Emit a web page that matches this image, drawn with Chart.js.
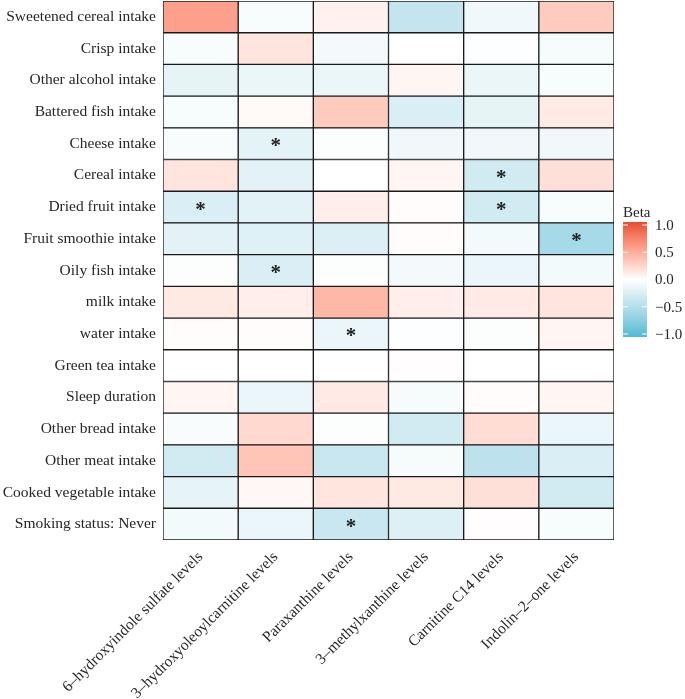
<!DOCTYPE html>
<html>
<head>
    <title>Beta heatmap</title>
    <meta charset="UTF-8">
    <script src="https://cdn.jsdelivr.net/npm/chart.js@4.4.1/dist/chart.umd.min.js"></script>
    <style>
        body { margin: 0; background: #fff; }
    </style>
</head>
<body>
<div style="width:685px;height:699px;">
    <canvas id="heatmap" width="685" height="699"></canvas>
</div>

<script>
    // rows (exposures) and columns (metabolites)
    var exposures = ["Sweetened cereal intake", "Crisp intake", "Other alcohol intake", "Battered fish intake",
        "Cheese intake", "Cereal intake", "Dried fruit intake", "Fruit smoothie intake", "Oily fish intake",
        "milk intake", "water intake", "Green tea intake", "Sleep duration", "Other bread intake",
        "Other meat intake", "Cooked vegetable intake", "Smoking status: Never"];
    var metabolites = ["6–hydroxyindole sulfate levels", "3–hydroxyoleoylcarnitine levels", "Paraxanthine levels",
        "3–methylxanthine levels", "Carnitine C14 levels", "Indolin–2–one levels"];

    // beta per metabolite, in the order of exposures
    var hydroxyindole = [0.55, -0.05, -0.16, -0.05, -0.04, 0.15, -0.24, -0.19, -0.02, 0.13, 0.02, 0.0, 0.05, -0.04, -0.3, -0.16, -0.08];
    var hydroxyoleoyl = [-0.05, 0.15, -0.13, 0.03, -0.18, -0.19, -0.19, -0.21, -0.24, 0.1, 0.02, 0.0, -0.13, 0.22, 0.33, 0.04, -0.13];
    var paraxanthine  = [0.08, -0.07, -0.13, 0.3, -0.02, 0.0, 0.1, -0.23, -0.02, 0.42, -0.13, 0.0, 0.12, -0.02, -0.35, 0.15, -0.35];
    var methylxanthine = [-0.38, 0.0, 0.05, -0.24, -0.1, 0.06, 0.02, 0.02, -0.07, 0.1, -0.01, 0.01, -0.06, -0.3, -0.06, 0.13, -0.22];
    var carnitineC14  = [-0.1, -0.01, -0.13, -0.16, -0.1, -0.3, -0.3, -0.08, -0.13, 0.12, -0.02, 0.0, 0.02, 0.2, -0.42, 0.18, 0.01];
    var indolinone    = [0.3, -0.06, -0.05, 0.12, -0.1, 0.18, -0.05, -0.55, -0.08, 0.15, 0.06, 0.0, 0.06, -0.13, -0.24, -0.3, -0.05];

    // significant cells: [exposure index, metabolite index]
    var significant = [[4, 1], [5, 4], [6, 0], [6, 4], [7, 5], [8, 1], [10, 2], [16, 2]];

    var legendTicks = [1.0, 0.5, 0.0, -0.5, -1.0];

    var lowColor = [77, 187, 213];
    var midColor = [255, 255, 255];
    var highColor = [230, 75, 53];

    // colour interpolation in Lab space, like ggplot's gradient2
    function toLin(c) { c /= 255; return c <= 0.04045 ? c / 12.92 : Math.pow((c + 0.055) / 1.055, 2.4); }
    function fromLin(c) { var v = c <= 0.0031308 ? 12.92 * c : 1.055 * Math.pow(c, 1 / 2.4) - 0.055; return Math.round(Math.max(0, Math.min(1, v)) * 255); }
    function rgb2lab(rgb) {
        var r = toLin(rgb[0]), g = toLin(rgb[1]), b = toLin(rgb[2]);
        var X = (0.4124 * r + 0.3576 * g + 0.1805 * b) / 0.95047;
        var Y = (0.2126 * r + 0.7152 * g + 0.0722 * b);
        var Z = (0.0193 * r + 0.1192 * g + 0.9505 * b) / 1.08883;
        var f = function (t) { return t > 0.008856 ? Math.cbrt(t) : 7.787 * t + 16 / 116; };
        var fx = f(X), fy = f(Y), fz = f(Z);
        return [116 * fy - 16, 500 * (fx - fy), 200 * (fy - fz)];
    }
    function lab2rgb(lab) {
        var fy = (lab[0] + 16) / 116, fx = fy + lab[1] / 500, fz = fy - lab[2] / 200;
        var inv = function (t) { return t * t * t > 0.008856 ? t * t * t : (t - 16 / 116) / 7.787; };
        var X = inv(fx) * 0.95047, Y = inv(fy), Z = inv(fz) * 1.08883;
        var r = 3.2406 * X - 1.5372 * Y - 0.4986 * Z;
        var g = -0.9689 * X + 1.8758 * Y + 0.0415 * Z;
        var b = 0.0557 * X - 0.2040 * Y + 1.0570 * Z;
        return [fromLin(r), fromLin(g), fromLin(b)];
    }
    var lowLab = rgb2lab(lowColor), midLab = rgb2lab(midColor), highLab = rgb2lab(highColor);

    function betaColor(v) {
        var t = Math.max(-1, Math.min(1, v));
        var end = t < 0 ? lowLab : highLab;
        var a = Math.abs(t);
        var lab = midLab.map(function (m, i) { return m + (end[i] - m) * a; });
        return "rgb(" + lab2rgb(lab).join(",") + ")";
    }

    var columns = [hydroxyindole, hydroxyoleoyl, paraxanthine, methylxanthine, carnitineC14, indolinone];
    var serif = "'Liberation Serif', 'DejaVu Serif', serif";
    var textColor = "#262626";

    var datasets = columns.map(function (vals, i) {
        return {
            label: metabolites[i],
            data: exposures.map(function () { return 1; }),
            backgroundColor: vals.map(betaColor),
            borderColor: "#1a1a1a",
            borderWidth: 1,
            borderSkipped: false,
            categoryPercentage: 1,
            barPercentage: 1
        };
    });

    var starsPlugin = {
        id: "stars",
        afterDatasetsDraw: function (chart) {
            var ctx = chart.ctx, xs = chart.scales.x, ys = chart.scales.y;
            ctx.save();
            ctx.fillStyle = "#222";
            ctx.font = "bold 21px " + serif;
            ctx.textAlign = "center";
            ctx.textBaseline = "middle";
            significant.forEach(function (s) {
                ctx.fillText("*", xs.getPixelForValue(s[1] + 0.5), ys.getPixelForValue(s[0]) + 3);
            });
            ctx.restore();
        }
    };

    var colorbarPlugin = {
        id: "colorbar",
        afterDraw: function (chart) {
            var ctx = chart.ctx;
            var x0 = 623, w = 24, top = 222, bottom = 337;
            ctx.save();
            var g = ctx.createLinearGradient(0, top, 0, bottom);
            for (var k = 0; k <= 20; k++) {
                g.addColorStop(k / 20, betaColor(1 - k / 10));
            }
            ctx.fillStyle = g;
            ctx.fillRect(x0, top, w, bottom - top);
            ctx.fillStyle = textColor;
            ctx.font = "15px " + serif;
            ctx.textBaseline = "alphabetic";
            ctx.textAlign = "left";
            ctx.fillText("Beta", 623, 217);
            ctx.textBaseline = "middle";
            ctx.strokeStyle = "#fff";
            ctx.lineWidth = 1;
            legendTicks.forEach(function (v) {
                var y = top + 3 + (1 - v) / 2 * (bottom - top - 6);
                ctx.beginPath();
                ctx.moveTo(x0, y); ctx.lineTo(x0 + 5, y);
                ctx.moveTo(x0 + w - 5, y); ctx.lineTo(x0 + w, y);
                ctx.stroke();
                var txt = (v < 0 ? "\u2212" : "") + Math.abs(v).toFixed(1);
                ctx.fillText(txt, 655, y + 1);
            });
            ctx.restore();
        }
    };

    new Chart(document.getElementById("heatmap"), {
        type: "bar",
        data: { labels: exposures, datasets: datasets },
        options: {
            indexAxis: "y",
            responsive: false,
            animation: false,
            layout: { padding: { top: 1, right: 71, left: 0, bottom: 0 } },
            plugins: { legend: { display: false }, tooltip: { enabled: false } },
            scales: {
                x: {
                    type: "linear",
                    stacked: true,
                    min: 0,
                    max: 6,
                    grid: { display: false },
                    border: { display: false },
                    afterBuildTicks: function (axis) {
                        axis.ticks = metabolites.map(function (m, i) { return { value: i + 0.5 }; });
                    },
                    afterFit: function (axis) { axis.height = 159; axis.paddingLeft = 0; axis.paddingRight = 0; },
                    ticks: {
                        autoSkip: false,
                        minRotation: 45,
                        maxRotation: 45,
                        padding: 0,
                        color: textColor,
                        font: { family: serif, size: 15.5 },
                        callback: function (v) { return metabolites[Math.floor(v)]; }
                    }
                },
                y: {
                    stacked: true,
                    grid: { display: false, drawTicks: false },
                    border: { display: false },
                    afterFit: function (axis) { axis.width = 163; axis.paddingTop = 0; axis.paddingBottom = 0; },
                    ticks: {
                        padding: 7,
                        color: textColor,
                        font: { family: serif, size: 15.5 }
                    }
                }
            }
        },
        plugins: [starsPlugin, colorbarPlugin]
    });
</script>
</body>
</html>
